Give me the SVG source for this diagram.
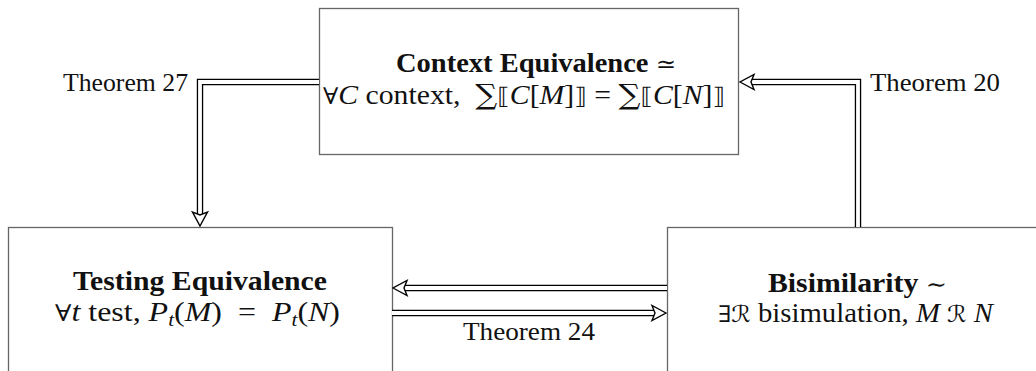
<svg xmlns="http://www.w3.org/2000/svg" width="1036" height="371" viewBox="0 0 1036 371">
<style>
.box{fill:#fff;stroke:#666;stroke-width:1.3}
.t{font-family:"Liberation Serif",serif;font-size:26px;fill:#111}
.b{font-weight:bold;font-size:27px}
.r{font-size:27px}
.i{font-style:italic}
.s{font-family:"DejaVu Serif","DejaVu Sans",serif;font-weight:normal;font-size:23px}
.sub{font-size:18px}
.big{font-family:"DejaVu Serif","DejaVu Sans",serif;font-size:28px}
.outer{fill:none;stroke:#000;stroke-width:6.4;stroke-linejoin:miter}
.inner{fill:none;stroke:#fff;stroke-width:3.8;stroke-linejoin:miter}
.head{fill:#fff;stroke:#000;stroke-width:1.4;stroke-linejoin:miter}
</style>
<defs>
<path id="head" d="M0,0 L-14,-7.5 L-11,0 L-14,7.5 Z"/>
</defs>
<rect width="1036" height="371" fill="#fff"/>
<g id="context">
<rect class="box" x="319.5" y="8.5" width="419" height="146"/>
<text class="t b" x="396" y="72" textLength="280" lengthAdjust="spacingAndGlyphs">Context Equivalence <tspan class="s">≃</tspan></text>
<text class="t r" x="323" y="104" textLength="402" lengthAdjust="spacingAndGlyphs"><tspan class="s">∀</tspan><tspan class="i">C</tspan><tspan> context,&#160;&#160;</tspan><tspan class="big">∑</tspan><tspan class="s">⟦</tspan><tspan class="i">C</tspan><tspan>[</tspan><tspan class="i">M</tspan><tspan>]</tspan><tspan class="s">⟧</tspan><tspan> = </tspan><tspan class="big">∑</tspan><tspan class="s">⟦</tspan><tspan class="i">C</tspan><tspan>[</tspan><tspan class="i">N</tspan><tspan>]</tspan><tspan class="s">⟧</tspan></text>
</g>
<g id="testing">
<rect class="box" x="8.5" y="227.5" width="384" height="160"/>
<text class="t b" x="73" y="290" textLength="254" lengthAdjust="spacingAndGlyphs">Testing Equivalence</text>
<text class="t r" x="55" y="321" textLength="285" lengthAdjust="spacingAndGlyphs"><tspan class="s">∀</tspan><tspan class="i">t</tspan><tspan> test, </tspan><tspan class="i">P</tspan><tspan class="i sub" dy="5">t</tspan><tspan dy="-5">(</tspan><tspan class="i">M</tspan><tspan>)&#160; = &#160;</tspan><tspan class="i">P</tspan><tspan class="i sub" dy="5">t</tspan><tspan dy="-5">(</tspan><tspan class="i">N</tspan><tspan>)</tspan></text>
</g>
<g id="bisimilarity">
<rect class="box" x="667.5" y="227.5" width="380" height="160"/>
<text class="t b" x="768" y="292" textLength="179" lengthAdjust="spacingAndGlyphs">Bisimilarity <tspan class="s">∼</tspan></text>
<text class="t r" x="718" y="322" textLength="275" lengthAdjust="spacingAndGlyphs"><tspan class="s">∃ℛ</tspan><tspan> bisimulation, </tspan><tspan class="i">M</tspan><tspan> </tspan><tspan class="s">ℛ</tspan><tspan> </tspan><tspan class="i">N</tspan></text>
</g>
<g id="connectors">
<path class="outer" d="M319,82 H200 V216"/>
<path class="inner" d="M319,82 H200 V216"/>
<use href="#head" class="head" transform="translate(200,226) rotate(90)"/>
<path class="outer" d="M858,227 V82 H750"/>
<path class="inner" d="M858,227 V82 H750"/>
<use href="#head" class="head" transform="translate(740,82) rotate(180)"/>
<path class="outer" d="M667,288 H403"/>
<path class="inner" d="M667,288 H403"/>
<use href="#head" class="head" transform="translate(393,288) rotate(180)"/>
<path class="outer" d="M392,313 H656"/>
<path class="inner" d="M392,313 H656"/>
<use href="#head" class="head" transform="translate(666,313)"/>
</g>
<g id="labels">
<text class="t" x="188" y="91" text-anchor="end" textLength="125" lengthAdjust="spacingAndGlyphs">Theorem 27</text>
<text class="t" x="870" y="91" textLength="130" lengthAdjust="spacingAndGlyphs">Theorem 20</text>
<text class="t" x="463" y="340" textLength="132" lengthAdjust="spacingAndGlyphs">Theorem 24</text>
</g>
</svg>
